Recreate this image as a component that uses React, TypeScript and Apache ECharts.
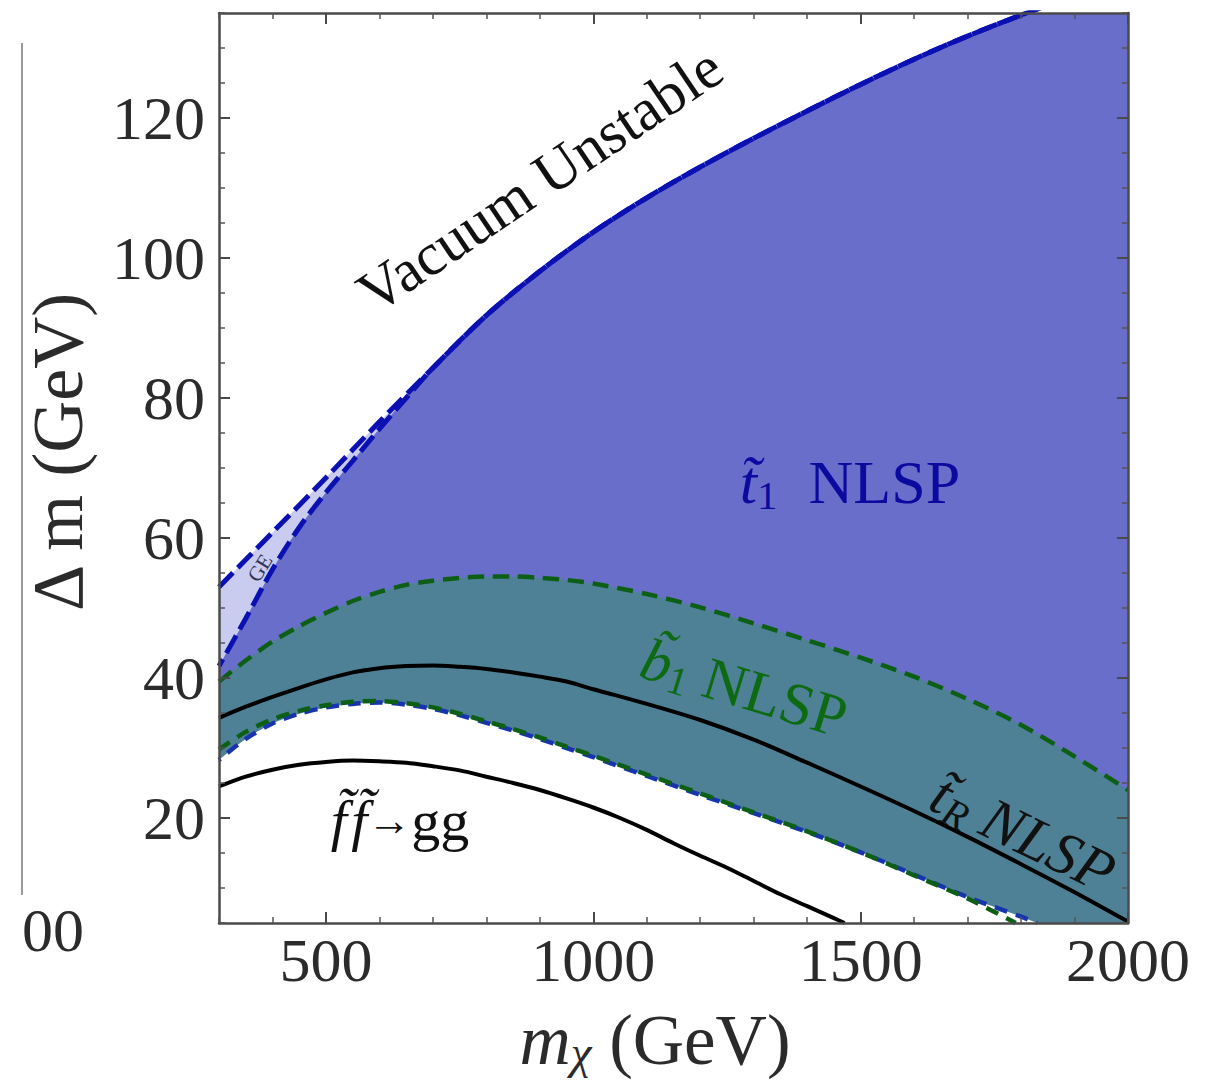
import React, { useEffect, useRef } from "react";
import * as echarts from "echarts";

const FONT = '"Liberation Serif", "DejaVu Serif", "Times New Roman", serif';

// ---- data (m_chi in GeV on x, Δm in GeV on y) ----
const xMajor = [500, 1000, 1500, 2000];
const yMajor = [20, 40, 60, 80, 100, 120];

// vacuum-stability boundary (also upper edge of the "GE" band)
const vacuumX = [300, 400, 500, 600, 700, 800, 900, 1000, 1100, 1200, 1300, 1400, 1500, 1600, 1700, 1800, 1900, 2000];
const vacuumY = [53.0, 60.8, 68.6, 76.6, 84.3, 91.8, 98.1, 103.7, 108.6, 113.0, 117.1, 121.0, 124.8, 128.4, 131.7, 134.7, 137.5, 140.1];

// lower edge of the "GE" band
const geLowerX = [300, 350, 400, 450, 500, 550, 600, 650, 700];
const geLowerY = [41.7, 48.5, 55.5, 61.5, 66.5, 71.0, 75.6, 80.0, 84.3];

const bandX = [300, 350, 400, 450, 500, 550, 600, 650, 700, 750, 800, 850, 900, 950, 1000, 1100, 1200, 1300, 1400, 1500, 1600, 1700, 1800, 1900, 2000];
// upper edge of sbottom NLSP band (green dashed)
const greenUpperY = [39.5, 42.5, 45.2, 47.4, 49.3, 51.0, 52.3, 53.3, 53.9, 54.3, 54.5, 54.5, 54.3, 54.0, 53.5, 52.0, 50.1, 47.8, 45.4, 42.9, 40.2, 37.0, 33.3, 28.8, 24.0];
// stop_R NLSP line (black solid)
const blackUpperY = [34.3, 35.9, 37.3, 38.6, 39.8, 40.8, 41.4, 41.7, 41.8, 41.6, 41.3, 40.8, 40.2, 39.5, 38.4, 36.3, 34.0, 31.2, 27.9, 24.5, 21.0, 17.3, 13.4, 9.4, 5.2];

// lower edge of bands (green dashed and blue dashed)
const greenLowerX = [300, 350, 400, 450, 500, 550, 600, 650, 700, 750, 800, 850, 900, 950, 1000, 1100, 1200, 1300, 1400, 1500, 1600, 1700, 1790];
const greenLowerY = [29.8, 32.3, 34.1, 35.3, 36.1, 36.6, 36.7, 36.4, 35.8, 34.9, 33.8, 32.7, 31.5, 30.2, 28.9, 26.2, 23.5, 20.8, 18.1, 15.1, 11.8, 8.5, 5.0];
const blueLowerX = [300, 350, 400, 450, 500, 550, 600, 650, 700, 750, 800, 850, 900, 950, 1000, 1100, 1200, 1300, 1400, 1500, 1600, 1700, 1800, 1830];
const blueLowerY = [28.3, 31.3, 33.5, 34.9, 35.8, 36.3, 36.5, 36.2, 35.6, 34.7, 33.6, 32.5, 31.3, 30.0, 28.7, 26.0, 23.3, 20.7, 18.0, 15.1, 11.9, 8.7, 5.9, 5.0];

// f f -> gg line (black solid, lower)
const ggX = [300, 350, 400, 450, 500, 550, 600, 650, 700, 750, 800, 850, 900, 950, 1000, 1050, 1100, 1150, 1200, 1250, 1300, 1350, 1400, 1450, 1470];
const ggY = [24.5, 25.9, 26.9, 27.6, 28.0, 28.2, 28.1, 27.9, 27.4, 26.8, 25.9, 25.0, 24.0, 22.8, 21.5, 20.0, 18.3, 16.4, 14.6, 12.9, 11.0, 9.1, 7.4, 5.7, 5.0];

const pairs = (xs: number[], ys: number[]) => xs.map((x, i) => [x, ys[i]]);

const C = {
  light: "#C9CCEF",
  dark: "#6A6ECB",
  teal: "#4E8196",
  blueLine: "#0A10B2",
  green: "#0D5F16",
  blueDash: "#1733AE",
  frame: "#4a4a4a",
  text: "#2b2b2b",
};

const SMOOTH = 0.3;

function fillSeries(data: number[][], color: string, z: number) {
  return {
    type: "line",
    data,
    smooth: SMOOTH,
    showSymbol: false,
    silent: true,
    clip: true,
    z,
    lineStyle: { width: 0, opacity: 0 },
    areaStyle: { color, opacity: 1, origin: "start" },
  };
}

function lineSeries(data: number[][], color: string, width: number, type: any, z: number, dashOffset = 0) {
  return {
    type: "line",
    data,
    smooth: SMOOTH,
    showSymbol: false,
    silent: true,
    clip: true,
    z,
    lineStyle: { color, width, type, dashOffset, cap: "butt" },
  };
}

const plain = (v: number) => String(v);

function xAxisCfg(position: string, major: boolean, label: boolean) {
  return {
    type: "value",
    min: 300,
    max: 2000,
    position,
    ...(major ? {} : { interval: 100 }),
    axisLine: { show: !major, onZero: false, lineStyle: { color: C.frame, width: 2.5 } },
    axisTick: major
      ? { show: true, inside: true, length: 11, customValues: xMajor, lineStyle: { color: C.frame, width: 2 } }
      : { show: true, inside: true, length: 6, lineStyle: { color: "#555", width: 1.5 } },
    axisLabel: label
      ? { show: true, customValues: xMajor, formatter: plain, fontSize: 62, fontFamily: FONT, color: C.text, margin: 6, showMinLabel: true, showMaxLabel: true }
      : { show: false },
    splitLine: { show: false },
    z: 10,
  };
}

function yAxisCfg(position: string, major: boolean, label: boolean) {
  return {
    type: "value",
    min: 5,
    max: 135,
    position,
    ...(major ? {} : { interval: 5 }),
    axisLine: { show: !major, onZero: false, lineStyle: { color: C.frame, width: 2.5 } },
    axisTick: major
      ? { show: true, inside: true, length: 11, customValues: yMajor, lineStyle: { color: C.frame, width: 2 } }
      : { show: true, inside: true, length: 6, lineStyle: { color: "#555", width: 1.5 } },
    axisLabel: label
      ? { show: true, customValues: yMajor, formatter: plain, fontSize: 62, fontFamily: FONT, color: C.text, margin: 14 }
      : { show: false },
    splitLine: { show: false },
    z: 10,
  };
}

function richFor(size: number, color: string, padFactor = 0.42) {
  const sub = Math.round(size * 0.66);
  const pad = Math.round(size * padFactor);
  return {
    i: { fontStyle: "italic", fontSize: size, fontFamily: FONT, fill: color },
    n: { fontSize: size, fontFamily: FONT, fill: color },
    a: { fontSize: Math.round(size * 0.75), fontFamily: FONT, fill: color },
    t: { fontSize: Math.round(size * 0.3), fontFamily: FONT, fill: color },
    s: { fontSize: sub, fontFamily: FONT, fill: color, padding: [pad, 0, 0, 0] },
    si: { fontStyle: "italic", fontSize: sub, fontFamily: FONT, fill: color, padding: [pad, 0, 0, 0] },
  };
}

function label(text: string, x: number, y: number, rotDeg: number, size: number, color: string, padFactor = 0.42) {
  return {
    type: "text",
    x,
    y,
    rotation: (rotDeg * Math.PI) / 180,
    silent: true,
    z: 100,
    style: {
      text,
      rich: richFor(size, color, padFactor),
      fontSize: size,
      fontFamily: FONT,
      fill: color,
      align: "center",
      verticalAlign: "middle",
    },
  };
}

export default function App() {
  const ref = useRef<HTMLDivElement>(null);

  useEffect(() => {
    if (!ref.current) return;
    const chart = echarts.init(ref.current, null, { renderer: "svg" });

    const vacuum = pairs(vacuumX, vacuumY);
    const geLower = pairs(geLowerX, geLowerY);
    const darkEdge = geLower.concat(vacuum.filter((p) => p[0] > 700));

    const option: any = {
      animation: false,
      backgroundColor: "#ffffff",
      grid: { left: 219, right: 86, top: 13, bottom: 166, containLabel: false },
      xAxis: [
        xAxisCfg("bottom", false, false),
        xAxisCfg("bottom", true, true),
        xAxisCfg("top", false, false),
        xAxisCfg("top", true, false),
      ],
      yAxis: [
        yAxisCfg("left", false, false),
        yAxisCfg("left", true, true),
        yAxisCfg("right", false, false),
        yAxisCfg("right", true, false),
      ],
      series: [
        fillSeries(vacuum, C.light, 1),
        fillSeries(darkEdge, C.dark, 2),
        fillSeries(pairs(bandX, greenUpperY), C.teal, 3),
        fillSeries(pairs(blueLowerX, blueLowerY), "#ffffff", 4),
        lineSeries(vacuum, C.blueLine, 5, [20, 7], 5),
        lineSeries(darkEdge, C.blueLine, 5, [20, 7], 5, 12),
        lineSeries(pairs(bandX, greenUpperY), C.green, 4.5, [16, 9], 6),
        lineSeries(pairs(blueLowerX, blueLowerY), C.blueDash, 4.5, [13, 9], 6, 11),
        lineSeries(pairs(greenLowerX, greenLowerY), C.green, 4.5, [13, 9], 7),
        lineSeries(pairs(bandX, blackUpperY), "#000000", 4, "solid", 8),
        lineSeries(pairs(ggX, ggY), "#000000", 4, "solid", 8),
      ],
      graphic: [
        { type: "line", silent: true, shape: { x1: 22, y1: 43, x2: 22, y2: 895 }, style: { stroke: "#9a9a9a", lineWidth: 2 } },
        {
          type: "text", x: 22, y: 930, silent: true,
          style: { text: "00", fontSize: 62, fontFamily: FONT, fill: C.text, align: "left", verticalAlign: "middle" },
        },
        {
          type: "text", x: 58, y: 452, rotation: Math.PI / 2, silent: true,
          style: { text: "Δ m (GeV)", fontSize: 72, fontFamily: FONT, fill: C.text, align: "center", verticalAlign: "middle" },
        },
        label("{i|m}{si|χ}{n| (GeV)}", 655, 1040, 0, 71, C.text, 0.32),
        label("{n|Vacuum Unstable}", 540, 180, 34, 60, "#111111"),
        label("{i|t̃}{s|1}{n|  NLSP}", 850, 482, 0, 62, "#0A0A9E"),
        label("{i|b̃}{s|1}{n| NLSP}", 744, 688, -17, 60, "#0E6A12"),
        label("{i|t̃}{si|R}{i| NLSP}", 1023, 833, -26, 60, "#111111"),
        label("{i|f̃}{t| }{i|f̃}{a|→}{n|gg}", 400, 820, 0, 58, "#111111"),
        label("{n|GE}", 260, 568, 58, 21, "#333355"),
      ],
    };

    chart.setOption(option);
    return () => chart.dispose();
  }, []);

  return (
    <div
      ref={ref}
      style={{ position: "absolute", left: 0, top: 0, width: 1214, height: 1089, background: "#fff" }}
    />
  );
}
